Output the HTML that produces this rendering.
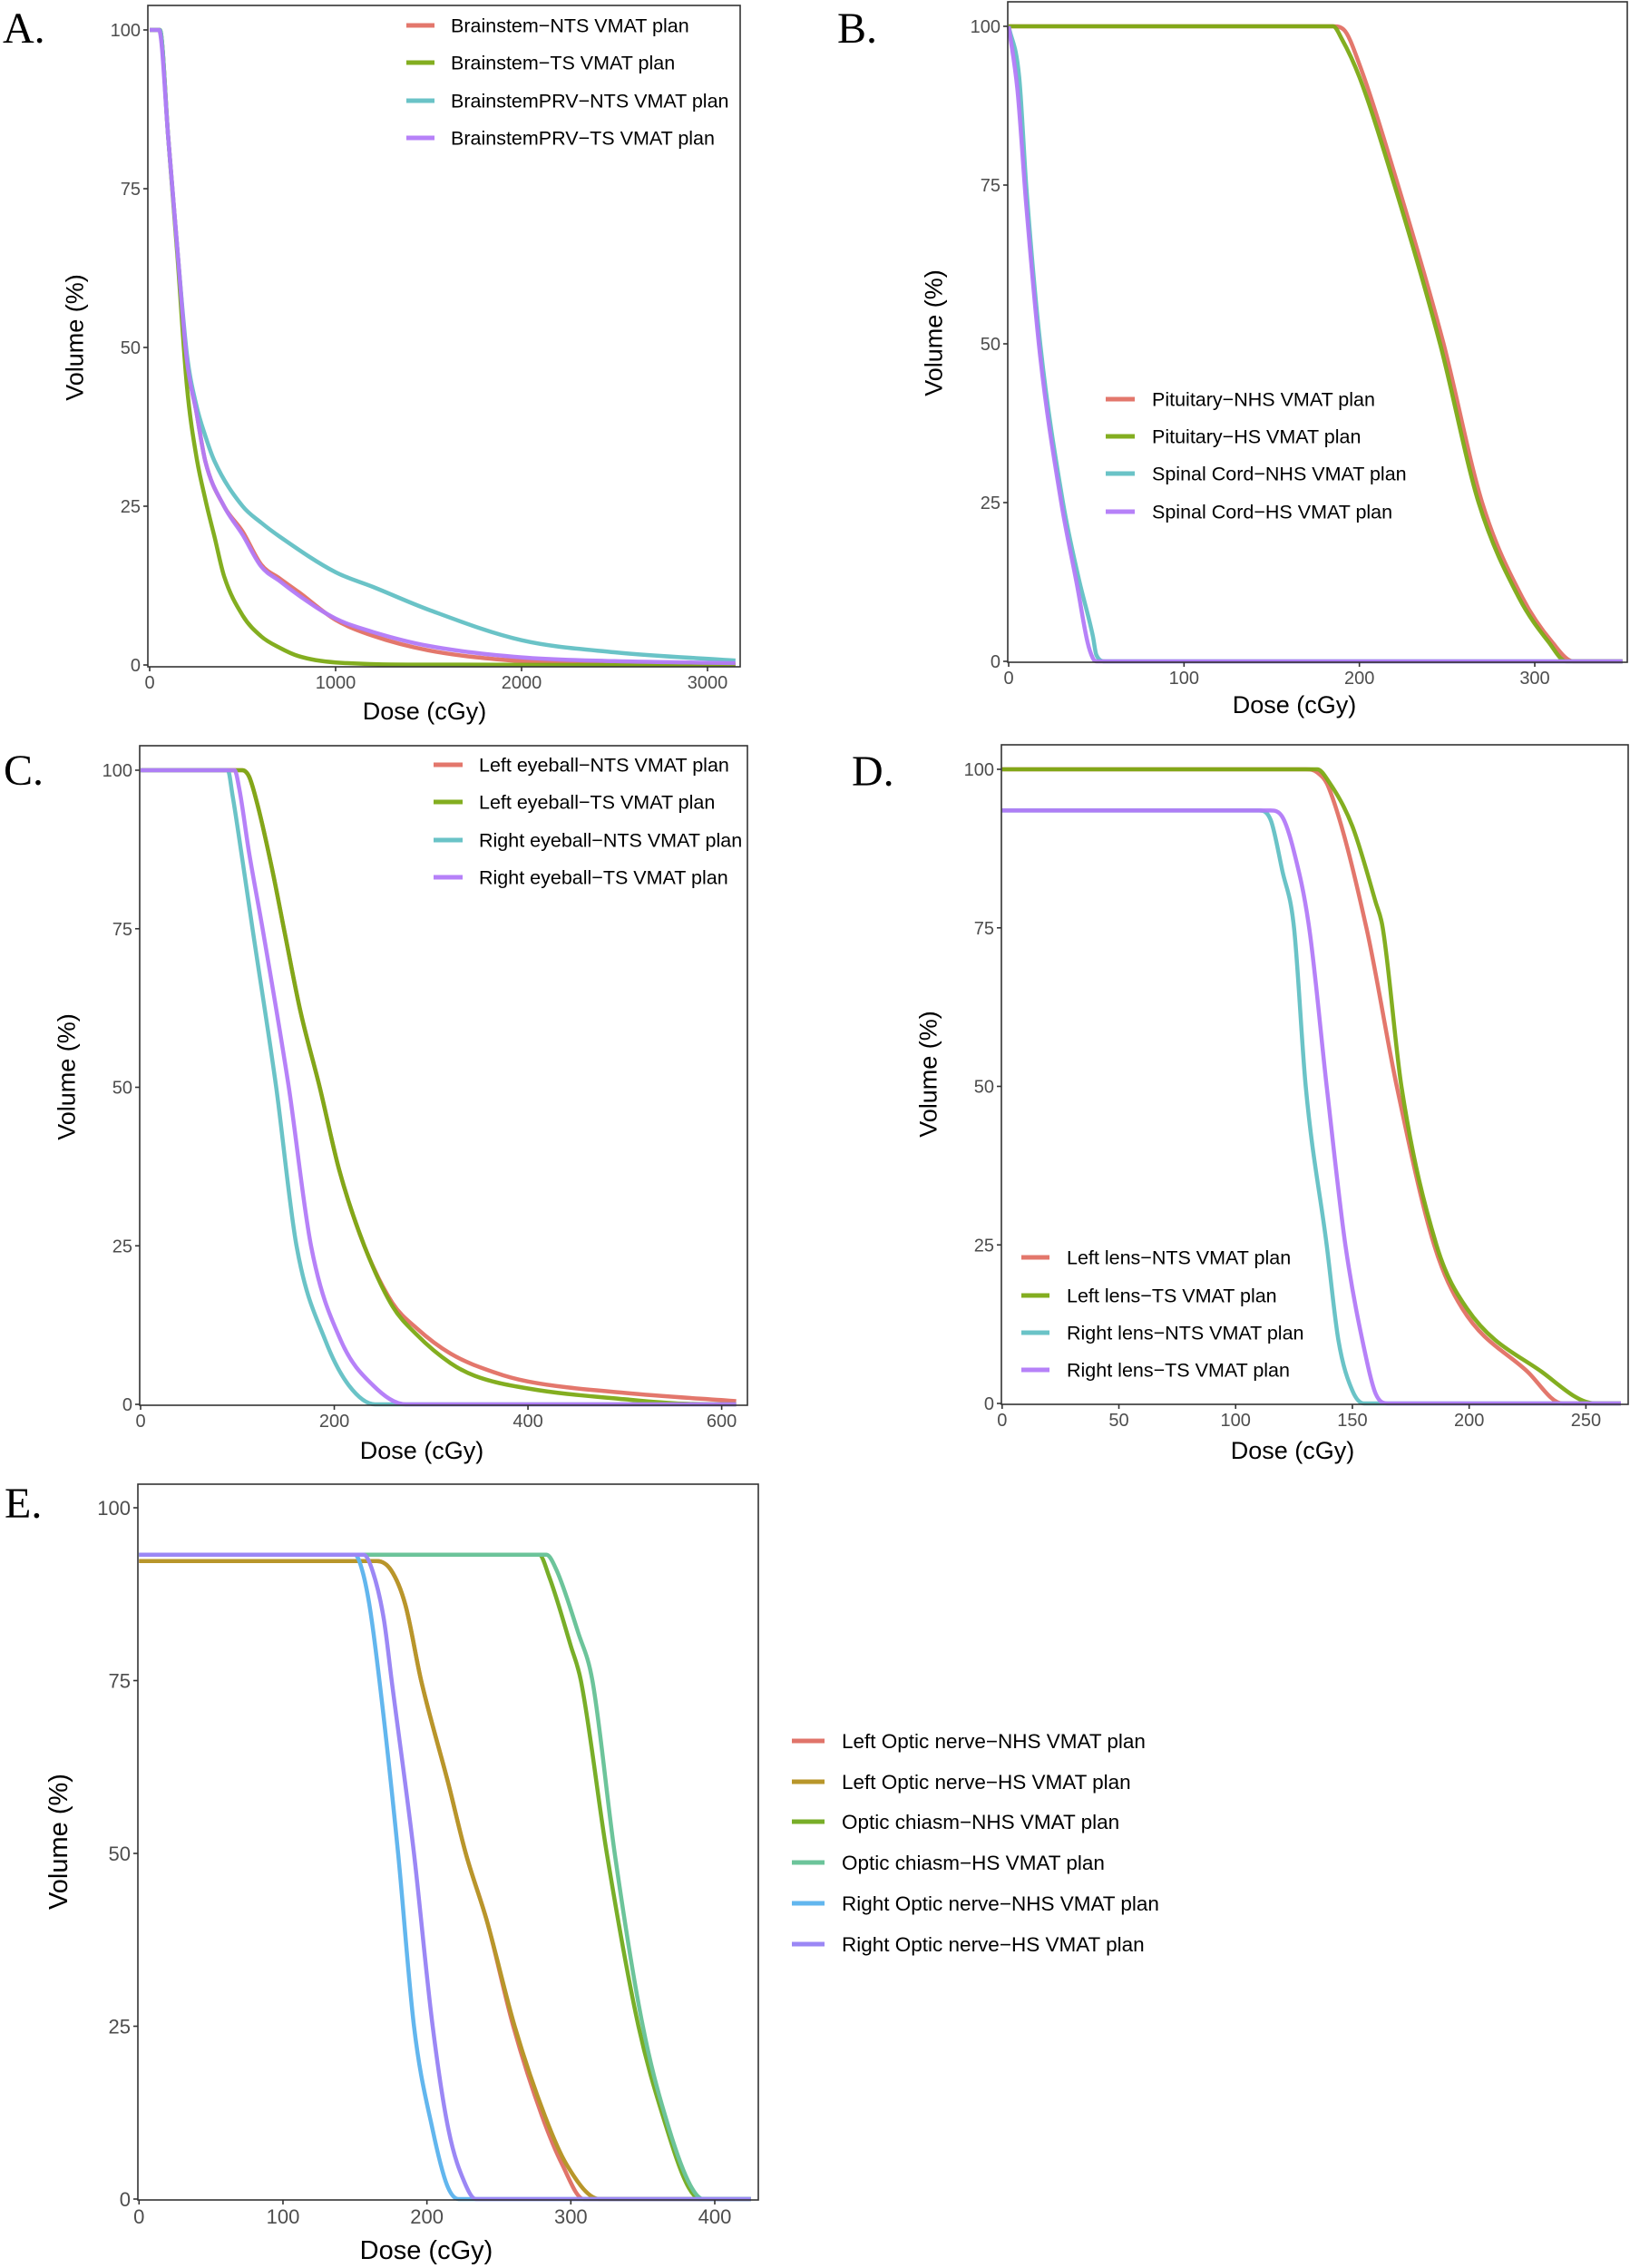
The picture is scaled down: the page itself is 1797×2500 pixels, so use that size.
<!DOCTYPE html>
<html><head><meta charset="utf-8">
<style>
html,body{margin:0;padding:0;background:#fff;}
svg{display:block;}
text{font-family:"Liberation Sans",sans-serif;}
</style></head>
<body>
<svg id="fig" width="1797" height="2500" viewBox="0 0 1797 2500" xmlns="http://www.w3.org/2000/svg"></svg>
<script>
// ---------- Panel A data ----------
const aDoseNTS = [0,55,100,150,200,250,300,400,500,600,700,800,1000,1200,1500,2000,2500,3150];
const aVolNTS  = [100,100,83,65,48,40,32,25,21,15.8,13.6,11.5,7.1,4.6,2.3,0.6,0.2,0.1];
const aDoseTS  = [0,55,100,150,200,250,300,350,400,500,600,700,800,1000,1500,3150];
const aVolTS   = [100,100,83,64,44,33,26,20,14,7.8,4.5,2.7,1.4,0.4,0.05,0];
const aDosePRVNTS = [0,55,100,150,200,250,300,350,500,600,700,1000,1200,1500,2000,2500,3150];
const aVolPRVNTS  = [100,100,83,65,49,41,36,32,25,22.4,20.2,14.6,12.3,8.7,3.9,2,0.7];
const aDosePRVTS  = [0,50,100,150,200,250,300,400,500,600,700,800,1000,1200,1500,2000,2500,3150];
const aVolPRVTS   = [100,100,83,65,48,40,32,25,20.5,15.5,13.2,11,7.3,5.2,3,1.2,0.6,0.3];
// ---------- Panel B data ----------
const bDosePitNHS = [0,185,191,200,222,248,270,293,310,322,350];
const bVolPitNHS  = [100,100,99.5,94,75,50,25,10,3,0,0];
const bDosePitHS  = [0,185,190,200,220,246,268,291,308,318,350];
const bVolPitHS   = [100,100,98,92,75,50,25,10,3,0,0];
const bDoseSCNHS  = [0,6,10,18,31,40,48,50,55,350];
const bVolSCNHS   = [100,92,75,50,25,13,4,1,0,0];
const bDoseSCHS   = [0,5,10,18,30,39,45,48,50,350];
const bVolSCHS    = [100,90,72,48,25,12,3,0.5,0,0];
// ---------- Panel C data ----------
const cDoseLNTS = [0,105,112,120,135,148,165,185,205,231,260,285,320,366,400,500,615];
const cVolLNTS  = [100,100,99,95,85,75,62,50,37,25,16,12,8,5,3.6,1.8,0.5];
const cDoseLTS  = [0,105,112,120,135,148,165,185,205,231,260,285,320,345,400,500,560,615];
const cVolLTS   = [100,100,99,95,85,75,62,50,37,25,15.5,11,6.5,4.5,2.5,0.8,0.1,0];
const cDoseRNTS = [0,90,95,105,115.6,140,161,191,215,242,615];
const cVolRNTS  = [100,100,96,86,75,50,25,10,3,0,0];
const cDoseRTS  = [0,97,102,112,126,153,176,207,240,274,615];
const cVolRTS   = [100,100,97,87,75,50,25,10,3,0,0];
// ---------- Panel D data ----------
const dDoseLNTS = [0,130,135,140,156,169,185,197,225,240,265];
const dVolLNTS  = [100,100,99.5,97,75,50,25,15,5,0,0];
const dDoseLTS  = [0,135,140,150,160,163,171,186,199,231,254,265];
const dVolLTS   = [100,100,98,91,79,75,50,25,15,5,0,0];
const dDoseRNTS = [0,110,115,120,125,130,139,144,150,155,265];
const dVolRNTS  = [93.5,93.5,92,84,75,50,25,10,2,0,0];
const dDoseRTS  = [0,115,120,125,131.5,139,147,156,160,165,265];
const dVolRTS   = [93.5,93.5,92.5,87,75,50,25,7,1.5,0,0];
// ---------- Panel E data ----------
const eDoseLONHS = [0,165,175,185,196,215,227,242,260,280,294,309,425];
const eVolLONHS  = [92.3,92.3,91,86,75,60,50,40,25,12,5,0,0];
const eDoseLOHS  = [0,165,175,185,196,215,227,242,261,282,297,320,425];
const eVolLOHS   = [92.3,92.3,91,86,75,60,50,40,25,12,5,0,0];
const eDoseOCNHS = [0,278,285,300,307,325,347,367,381,390,425];
const eVolOCNHS  = [93.2,93.2,90,80,75,50,25,10,2,0,0];
const eDoseOCHS  = [0,283,290,305,315,330.5,350,368.5,383,392,425];
const eVolOCHS   = [93.2,93.2,91,82,75,50,25,10,2,0,0];
const eDoseRONHS = [0,150,155,160,167,180,191,204,214,222,425];
const eVolRONHS  = [93.2,93.2,91,86,75,50,25,10,2,0,0];
const eDoseROHS  = [0,156,162,170,175.5,191,204,215,227,234,425];
const eVolROHS   = [93.2,93.2,91,84,75,50,25,10,2,0,0];
// ---------- ticks ----------
const yTicks = [0,25,50,75,100];
const aXTicks = [0,1000,2000,3000];
const bXTicks = [0,100,200,300];
const cXTicks = [0,200,400,600];
const dXTicks = [0,50,100,150,200,250];
const eXTicks = [0,100,200,300,400];

const NS = "http://www.w3.org/2000/svg";
const fig = document.getElementById('fig');
function mk(tag, attrs, parent){
  const e = document.createElementNS(NS, tag);
  for (const k in attrs) e.setAttribute(k, attrs[k]);
  (parent||fig).appendChild(e);
  return e;
}

// monotone cubic (Fritsch-Carlson) path through screen points
function smoothPath(X, Y){
  const n = X.length;
  if (n < 3) return X.map((x,i)=>(i?'L':'M')+x.toFixed(1)+','+Y[i].toFixed(1)).join('');
  const d = [], m = new Array(n);
  for (let i = 0; i < n-1; i++) d.push((Y[i+1]-Y[i])/(X[i+1]-X[i]));
  m[0] = d[0]; m[n-1] = d[n-2];
  for (let i = 1; i < n-1; i++) m[i] = (d[i-1]*d[i] <= 0) ? 0 : (d[i-1]+d[i])/2;
  for (let i = 0; i < n-1; i++) {
    if (d[i] === 0) { m[i] = 0; m[i+1] = 0; continue; }
    const a = m[i]/d[i], b = m[i+1]/d[i], s = a*a + b*b;
    if (s > 9) { const t = 3/Math.sqrt(s); m[i] = t*a*d[i]; m[i+1] = t*b*d[i]; }
  }
  let p = 'M' + X[0].toFixed(1) + ',' + Y[0].toFixed(1);
  for (let i = 0; i < n-1; i++) {
    const h = (X[i+1]-X[i])/3;
    p += 'C' + (X[i]+h).toFixed(1) + ',' + (Y[i]+m[i]*h).toFixed(1) + ' ' +
         (X[i+1]-h).toFixed(1) + ',' + (Y[i+1]-m[i+1]*h).toFixed(1) + ' ' +
         X[i+1].toFixed(1) + ',' + Y[i+1].toFixed(1);
  }
  return p;
}

function panel(p){
  const g = mk('g', {});
  
  
  const xs = v => p.x0 + (v - p.d0) * (p.x1 - p.x0) / (p.d1 - p.d0);
  const ys = v => p.y0 + (v) * (p.y100 - p.y0) / 100;
  p.series.forEach(s => {
    const X = s.dose.map(xs), Y = s.vol.map(ys);
    const path = mk('path', {d: smoothPath(X, Y), fill: 'none', stroke: s.color, 'stroke-width': p.lw, 'stroke-linejoin': 'round', 'stroke-linecap': 'butt'}, g);
    
    
  });
  const fr = mk('rect', {x: p.fl, y: p.ft, width: p.fr - p.fl, height: p.fb - p.ft, fill: 'none', stroke: '#333', 'stroke-width': 1.6}, g);
  
  
  yTicks.forEach(t => {
    const y = ys(t);
    mk('line', {x1: p.fl - 5, x2: p.fl, y1: y, y2: y, stroke: '#333', 'stroke-width': 1.6}, g);
    const tx = mk('text', {x: p.fl - 8, y: y + p.fs * 0.36, 'text-anchor': 'end', 'font-size': p.fs, fill: '#4d4d4d'}, g);
    tx.textContent = t;
    
    
  });
  p.xticks.forEach(t => {
    const x = xs(t);
    mk('line', {x1: x, x2: x, y1: p.fb, y2: p.fb + 5, stroke: '#333', 'stroke-width': 1.6}, g);
    const tx = mk('text', {x: x, y: p.fb + 5 + p.fs * 0.95, 'text-anchor': 'middle', 'font-size': p.fs, fill: '#4d4d4d'}, g);
    tx.textContent = t;
    
    
  });
  const xt = mk('text', {x: p.xtx, y: p.xty, 'text-anchor': 'middle', 'font-size': p.ts, fill: '#000'}, g);
  xt.textContent = 'Dose (cGy)';
  
  
  const yt = mk('text', {x: 0, y: 0, 'text-anchor': 'middle', 'font-size': p.ts, fill: '#000', transform: 'translate(' + (p.ytx + p.ts * 0.35) + ',' + p.yty + ') rotate(-90)'}, g);
  yt.textContent = 'Volume (%)';
  
  
  const lt = mk('text', {x: p.lx, y: p.ly, 'font-size': 48, fill: '#000', style: 'font-family:"Liberation Serif",serif'}, g);
  lt.textContent = p.id + '.';
  
  
  const lg = mk('g', {}, g);
  
  
  p.series.forEach((s, i) => {
    const y = p.legRows[i];
    const ent = mk('g', {}, lg);
    
    
    mk('line', {x1: p.legK0, x2: p.legK1, y1: y, y2: y, stroke: s.color, 'stroke-width': p.lw + 0.5}, ent);
    const tx = mk('text', {x: p.legT, y: y + p.ls * 0.36, 'font-size': p.ls, fill: '#000'}, ent);
    tx.textContent = s.label;
  });
}

const RED = 'rgba(226,112,100,0.95)', GRN = 'rgba(124,170,20,0.95)', TEAL = 'rgba(98,192,196,0.95)', PUR = 'rgba(178,122,248,0.95)';

panel({id:'A', x0:165, x1:780, d0:0, d1:3000, y0:733, y100:33, fl:163, ft:6, fr:816, fb:735,
  xticks:aXTicks, fs:20, ts:27, ls:21.5, lw:4.5,
  xtx:468, xty:793, ytx:82, yty:372, lx:3, ly:47,
  legK0:448, legK1:479, legT:497, legRows:[28,69,111,152],
  series:[
    {key:'brainstem-nts', label:'Brainstem\u2212NTS VMAT plan', color:RED, dose:aDoseNTS, vol:aVolNTS},
    {key:'brainstem-ts', label:'Brainstem\u2212TS VMAT plan', color:GRN, dose:aDoseTS, vol:aVolTS},
    {key:'brainstemprv-nts', label:'BrainstemPRV\u2212NTS VMAT plan', color:TEAL, dose:aDosePRVNTS, vol:aVolPRVNTS},
    {key:'brainstemprv-ts', label:'BrainstemPRV\u2212TS VMAT plan', color:PUR, dose:aDosePRVTS, vol:aVolPRVTS}
  ]});

panel({id:'B', x0:1112, x1:1692, d0:0, d1:300, y0:729, y100:29, fl:1111, ft:2, fr:1794, fb:730,
  xticks:bXTicks, fs:20, ts:27, ls:21.5, lw:4.5,
  xtx:1427, xty:786, ytx:1029, yty:367, lx:923, ly:47,
  legK0:1219, legK1:1251, legT:1270, legRows:[440,481,522,564],
  series:[
    {key:'pituitary-nhs', label:'Pituitary\u2212NHS VMAT plan', color:RED, dose:bDosePitNHS, vol:bVolPitNHS},
    {key:'pituitary-hs', label:'Pituitary\u2212HS VMAT plan', color:GRN, dose:bDosePitHS, vol:bVolPitHS},
    {key:'spinal-cord-nhs', label:'Spinal Cord\u2212NHS VMAT plan', color:TEAL, dose:bDoseSCNHS, vol:bVolSCNHS},
    {key:'spinal-cord-hs', label:'Spinal Cord\u2212HS VMAT plan', color:PUR, dose:bDoseSCHS, vol:bVolSCHS}
  ]});

panel({id:'C', x0:155, x1:795.6, d0:0, d1:600, y0:1548, y100:849, fl:154, ft:822, fr:824, fb:1549,
  xticks:cXTicks, fs:20, ts:27, ls:21.5, lw:4.5,
  xtx:465, xty:1608, ytx:73, yty:1187, lx:4, ly:865,
  legK0:478, legK1:510, legT:528, legRows:[843,884,926,967],
  series:[
    {key:'left-eyeball-nts', label:'Left eyeball\u2212NTS VMAT plan', color:RED, dose:cDoseLNTS, vol:cVolLNTS},
    {key:'left-eyeball-ts', label:'Left eyeball\u2212TS VMAT plan', color:GRN, dose:cDoseLTS, vol:cVolLTS},
    {key:'right-eyeball-nts', label:'Right eyeball\u2212NTS VMAT plan', color:TEAL, dose:cDoseRNTS, vol:cVolRNTS},
    {key:'right-eyeball-ts', label:'Right eyeball\u2212TS VMAT plan', color:PUR, dose:cDoseRTS, vol:cVolRTS}
  ]});

panel({id:'D', x0:1104.8, x1:1748.4, d0:0, d1:250, y0:1547, y100:848, fl:1104, ft:821, fr:1795, fb:1548,
  xticks:dXTicks, fs:20, ts:27, ls:21.5, lw:4.5,
  xtx:1425, xty:1608, ytx:1023, yty:1184, lx:939, ly:866,
  legK0:1126, legK1:1157, legT:1176, legRows:[1386,1428,1469,1510],
  series:[
    {key:'left-lens-nts', label:'Left lens\u2212NTS VMAT plan', color:RED, dose:dDoseLNTS, vol:dVolLNTS},
    {key:'left-lens-ts', label:'Left lens\u2212TS VMAT plan', color:GRN, dose:dDoseLTS, vol:dVolLTS},
    {key:'right-lens-nts', label:'Right lens\u2212NTS VMAT plan', color:TEAL, dose:dDoseRNTS, vol:dVolRNTS},
    {key:'right-lens-ts', label:'Right lens\u2212TS VMAT plan', color:PUR, dose:dDoseRTS, vol:dVolRTS}
  ]});

panel({id:'E', x0:153.3, x1:788, d0:0, d1:400, y0:2424, y100:1662, fl:152, ft:1636, fr:836, fb:2425,
  xticks:eXTicks, fs:22, ts:29, ls:22.5, lw:4.5,
  xtx:470, xty:2490, ytx:64, yty:2030, lx:5, ly:1673,
  legK0:873, legK1:909, legT:928, legRows:[1919,1964,2008,2053,2098,2143],
  series:[
    {key:'left-optic-nerve-nhs', label:'Left Optic nerve\u2212NHS VMAT plan', color:'#E0746A', dose:eDoseLONHS, vol:eVolLONHS},
    {key:'left-optic-nerve-hs', label:'Left Optic nerve\u2212HS VMAT plan', color:'#B8962A', dose:eDoseLOHS, vol:eVolLOHS},
    {key:'optic-chiasm-nhs', label:'Optic chiasm\u2212NHS VMAT plan', color:'#78AE28', dose:eDoseOCNHS, vol:eVolOCNHS},
    {key:'optic-chiasm-hs', label:'Optic chiasm\u2212HS VMAT plan', color:'#6CC49A', dose:eDoseOCHS, vol:eVolOCHS},
    {key:'right-optic-nerve-nhs', label:'Right Optic nerve\u2212NHS VMAT plan', color:'#62B6EE', dose:eDoseRONHS, vol:eVolRONHS},
    {key:'right-optic-nerve-hs', label:'Right Optic nerve\u2212HS VMAT plan', color:'#9B87F5', dose:eDoseROHS, vol:eVolROHS}
  ]});
</script>
</body></html>
